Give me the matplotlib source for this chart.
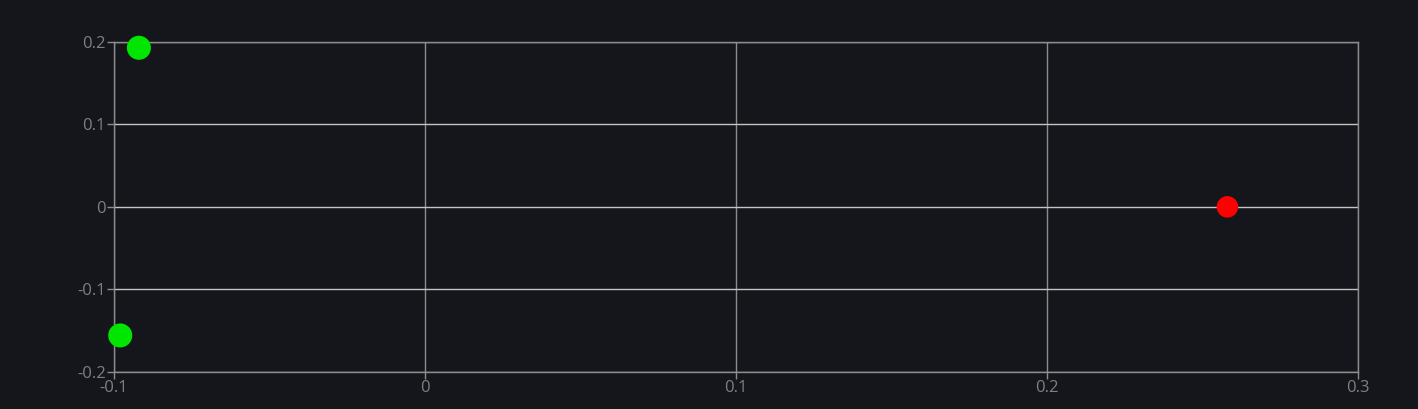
import matplotlib.pyplot as plt

# point data
x_vals = [-0.092, -0.098, 0.258]
y_vals = [0.193, -0.156, 0.0]
colors = ["#00e600", "#00e600", "#ff0000"]
sizes = [300, 300, 240]

xticks = [-0.1, 0, 0.1, 0.2, 0.3]
xtick_labels = ["-0.1", "0", "0.1", "0.2", "0.3"]
yticks = [-0.2, -0.1, 0, 0.1, 0.2]
ytick_labels = ["-0.2", "-0.1", "0", "0.1", "0.2"]

bg = "#14161b"
grid_col = "#8c8c8c"
hgrid_col = "#c4c4c4"
text_col = "#7f7f7f"

plt.rcParams["font.family"] = ["Open Sans", "DejaVu Sans"]

fig = plt.figure(figsize=(14.18, 4.09), dpi=100, facecolor=bg)
ax = fig.add_axes([0.0804, 0.0912, 0.8773, 0.8061])
ax.set_facecolor(bg)

ax.scatter(x_vals, y_vals, s=sizes, c=colors, zorder=3, linewidths=0, clip_on=False)

ax.set_xlim(-0.1, 0.3)
ax.set_ylim(-0.2, 0.2)
ax.set_xticks(xticks)
ax.set_xticklabels(xtick_labels)
ax.set_yticks(yticks)
ax.set_yticklabels(ytick_labels)
ax.grid(True, axis="x", color=grid_col, linewidth=1)
ax.grid(True, axis="y", color=hgrid_col, linewidth=1)
ax.set_axisbelow(True)

for s in ax.spines.values():
    s.set_color(grid_col)
    s.set_linewidth(1)

ax.tick_params(axis="both", colors=grid_col, labelcolor=text_col, labelsize=12,
               length=5, width=1, pad=1)

fig.savefig("out.png", dpi=100, facecolor=bg)
